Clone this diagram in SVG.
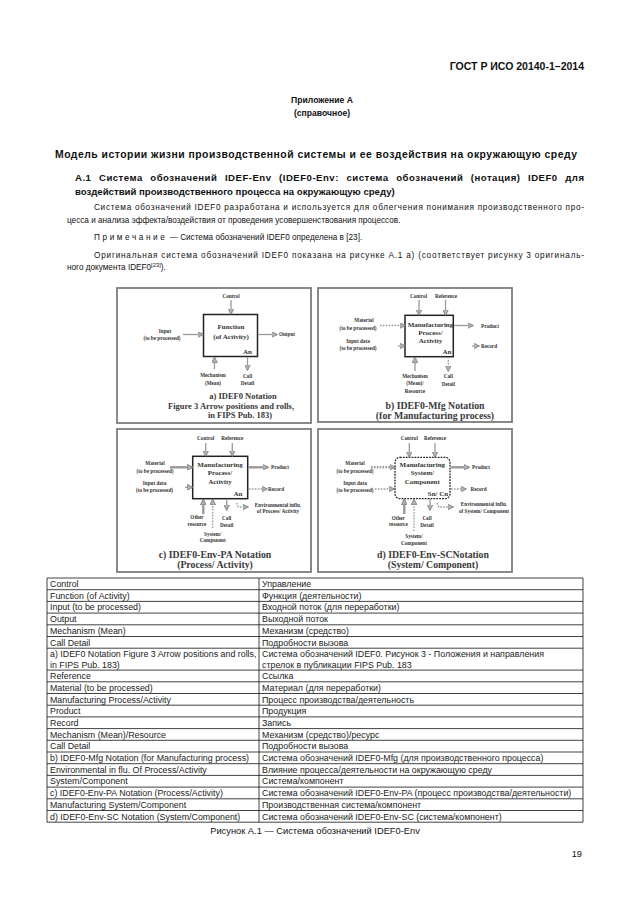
<svg xmlns="http://www.w3.org/2000/svg" width="630" height="913" viewBox="0 0 630 913">
<style>
.s{font-family:"Liberation Sans",Arial,sans-serif;fill:#111}
.b{font-weight:bold}
.t{font-family:"Liberation Sans",Arial,sans-serif;font-size:8.85px;fill:#222}
.pf{font-family:"Liberation Serif","Times New Roman",serif;font-weight:bold;fill:#333;text-anchor:middle}
.lb{font-size:5.2px}
.bx{font-size:7px}
.cap{font-size:9.8px;fill:#3a3a3a}
.capa{font-size:8.5px}
.panel{fill:#fff;stroke:#7d7d7d;stroke-width:1.8}
.box{fill:#fff;stroke:#222;stroke-width:1.5}
.ar{fill:none;stroke:#9a9a9a;stroke-width:1.3;marker-end:url(#ah)}
.th{stroke-width:2.4}
.dt{stroke-dasharray:1.6 1.3}
.tl{stroke:#111;stroke-width:0.8}
</style>
<defs>
<marker id="ah" viewBox="0 0 10 10" refX="9" refY="5" markerWidth="6" markerHeight="6" orient="auto" markerUnits="userSpaceOnUse">
<path d="M0,0 L10,5 L0,10 z" fill="#b0b0b0" stroke="#666" stroke-width="1"/>
</marker>
</defs>
<rect x="0" y="0" width="630" height="913" fill="#fff"/>

<g id="page-text">
<text class="s b" x="584" y="69.5" font-size="10.5" text-anchor="end">ГОСТ Р ИСО 20140-1–2014</text>
<text class="s b" x="322" y="103" font-size="8.6" text-anchor="middle">Приложение А</text>
<text class="s b" x="322" y="116" font-size="8.6" text-anchor="middle">(справочное)</text>
<text class="s b" x="316" y="157.5" font-size="10.4" text-anchor="middle" textLength="522">Модель истории жизни производственной системы и ее воздействия на окружающую среду</text>
<text class="s b" x="75" y="181" font-size="9.6" word-spacing="4.4" textLength="509">А.1 Система обозначений IDEF-Env (IDEF0-Env: система обозначений (нотация) IDEF0 для</text>
<text class="s b" x="75" y="195" font-size="9.6">воздействий производственного процесса на окружающую среду)</text>
<text class="s" x="94" y="210" font-size="8.2" textLength="490">Система обозначений IDEF0 разработана и используется для облегчения понимания производственного про-</text>
<text class="s" x="67" y="223" font-size="8.2">цесса и анализа эффекта/воздействия от проведения усовершенствования процессов.</text>
<text class="s" x="94" y="240" font-size="8.2"><tspan letter-spacing="2.6">Примечание</tspan> — Система обозначений IDEF0 определена в [23].</text>
<text class="s" x="94" y="258" font-size="8.2" textLength="490">Оригинальная система обозначений IDEF0 показана на рисунке А.1 а) (соответствует рисунку 3 оригиналь-</text>
<text class="s" x="67" y="270" font-size="8.2">ного документа IDEF0<tspan font-size="5.8" dy="-3">[23]</tspan><tspan dy="3">).</tspan></text>
</g>

<g id="panel-a">
<rect class="panel" x="117" y="288" width="194" height="135"/>
<rect class="box" x="203.5" y="314.5" width="54" height="42"/>
<text class="pf lb" x="231" y="298">Control</text>
<text class="pf bx" x="231" y="328.5">Function</text>
<text class="pf bx" x="231" y="338.5">(of Activity)</text>
<text class="pf bx" x="247.5" y="354">An</text>
<text class="pf lb" x="165" y="333">Input</text>
<text class="pf lb" x="162" y="339.5">(to be processed)</text>
<text class="pf lb" x="287" y="336">Output</text>
<text class="pf lb" x="213" y="377">Mechanism</text>
<text class="pf lb" x="213" y="384.5">(Mean)</text>
<text class="pf lb" x="247.5" y="378">Call</text>
<text class="pf lb" x="247.5" y="385">Detail</text>
<text class="pf cap capa" x="243" y="399">a) IDEF0 Notation</text>
<text class="pf cap capa" x="231" y="408.5">Figure 3 Arrow positions and rolls,</text>
<text class="pf cap capa" x="240" y="418">in FIPS Pub. 183)</text>
</g>

<g id="panel-b">
<rect class="panel" x="318" y="288" width="194" height="134"/>
<rect class="box" x="405" y="315.3" width="48.3" height="41.4"/>
<text class="pf lb" x="418.5" y="298">Control</text>
<text class="pf lb" x="446" y="298">Reference</text>
<text class="pf bx" x="430.5" y="327">Manufacturing</text>
<text class="pf bx" x="430.5" y="335">Process/</text>
<text class="pf bx" x="430.5" y="343">Activity</text>
<text class="pf bx" x="447" y="354">An</text>
<text class="pf lb" x="364" y="322">Material</text>
<text class="pf lb" x="358" y="329.5">(to be processed)</text>
<text class="pf lb" x="358" y="342.5">Input data</text>
<text class="pf lb" x="358" y="350">(to be processed)</text>
<text class="pf lb" x="490" y="327.5">Product</text>
<text class="pf lb" x="489" y="347.5">Record</text>
<text class="pf lb" x="415" y="378">Mechanism</text>
<text class="pf lb" x="415" y="385">(Mean)/</text>
<text class="pf lb" x="415" y="392.5">Resource</text>
<text class="pf lb" x="448.3" y="378">Call</text>
<text class="pf lb" x="448.3" y="385.5">Detail</text>
<text class="pf cap" x="435" y="408.5">b) IDEF0-Mfg Notation</text>
<text class="pf cap" x="435" y="418.5">(for Manufacturing process)</text>
</g>

<g id="panel-c">
<rect class="panel" x="117" y="429" width="194" height="143"/>
<rect class="box" x="192.7" y="456.3" width="55" height="42.4"/>
<text class="pf lb" x="205.7" y="440">Control</text>
<text class="pf lb" x="232.3" y="440">Reference</text>
<text class="pf bx" x="220" y="466.5">Manufacturing</text>
<text class="pf bx" x="220" y="475">Process/</text>
<text class="pf bx" x="220" y="483.5">Activity</text>
<text class="pf bx" x="238" y="495.5">An</text>
<text class="pf lb" x="155" y="465">Material</text>
<text class="pf lb" x="155" y="472.5">(to be processed)</text>
<text class="pf lb" x="154.5" y="485">Input data</text>
<text class="pf lb" x="154.5" y="492">(to be processed)</text>
<text class="pf lb" x="280" y="469">Product</text>
<text class="pf lb" x="276" y="490.5">Record</text>
<text class="pf lb" x="278" y="506.5">Environmental influ.</text>
<text class="pf lb" x="278" y="513">of Process/ Activity</text>
<text class="pf lb" x="197" y="519">Other</text>
<text class="pf lb" x="197" y="526">resource</text>
<text class="pf lb" x="212.7" y="535.5">System/</text>
<text class="pf lb" x="212.7" y="542">Component</text>
<text class="pf lb" x="226.7" y="519.5">Call</text>
<text class="pf lb" x="226.7" y="526.5">Detail</text>
<text class="pf cap" x="215" y="557.5">c) IDEF0-Env-PA Notation</text>
<text class="pf cap" x="215" y="567.5">(Process/ Activity)</text>
</g>

<g id="panel-d">
<rect class="panel" x="318" y="429" width="194" height="143"/>
<rect x="395" y="457.3" width="55" height="41.4" rx="5" fill="#fff" stroke="#222" stroke-width="1.3" stroke-dasharray="1.8 1.1"/>
<text class="pf lb" x="409.3" y="440">Control</text>
<text class="pf lb" x="435" y="440">Reference</text>
<text class="pf bx" x="422.3" y="466.5">Manufacturing</text>
<text class="pf bx" x="422.3" y="475">System/</text>
<text class="pf bx" x="422.3" y="483.5">Component</text>
<text class="pf bx" x="438" y="495.5">Sn/ Cn</text>
<text class="pf lb" x="355" y="465">Material</text>
<text class="pf lb" x="355" y="472.5">(to be processed)</text>
<text class="pf lb" x="355" y="485">Input data</text>
<text class="pf lb" x="355" y="492">(to be processed)</text>
<text class="pf lb" x="481" y="469">Product</text>
<text class="pf lb" x="478.5" y="490.5">Record</text>
<text class="pf lb" x="484" y="506">Environmental influ.</text>
<text class="pf lb" x="484" y="512.5">of System/ Component</text>
<text class="pf lb" x="398.3" y="519.5">Other</text>
<text class="pf lb" x="398.3" y="526">resource</text>
<text class="pf lb" x="414" y="538">System/</text>
<text class="pf lb" x="414" y="544.5">Component</text>
<text class="pf lb" x="427" y="519.5">Call</text>
<text class="pf lb" x="427" y="526.5">Detail</text>
<text class="pf cap" x="433" y="558">d) IDEF0-Env-SCNotation</text>
<text class="pf cap" x="433" y="567.5">(System/ Component)</text>
</g>

<g id="connectors">
<path class="ar" d="M231,300 V314"/>
<path class="ar" d="M183,334.5 H203"/>
<path class="ar" d="M258.5,334.5 H277"/>
<path class="ar" d="M214.5,369 V357.5"/>
<path class="ar" d="M247.5,357 V370"/>
<path class="ar" d="M419,300 V315"/>
<path class="ar" d="M445.5,300 V315"/>
<path class="ar dt" d="M380,325.5 H405"/>
<path class="ar" d="M398,346 H405"/>
<path class="ar" d="M454,325.5 H473"/>
<path class="ar" d="M472,346 H479"/>
<path class="ar" d="M415,371 V357.5"/>
<path class="ar dt" d="M448.3,357 V371"/>
<path class="ar" d="M205.7,443 V456"/>
<path class="ar" d="M232.3,443 V456"/>
<path class="ar th" d="M170,467.3 H192.5"/>
<path class="ar" d="M185,487.3 H192.5"/>
<path class="ar th" d="M248,467.3 H268"/>
<path class="ar dt" d="M249,489 H267"/>
<path class="ar dt" d="M236.5,503 L238.5,507 H248"/>
<path class="ar th" d="M203.3,514 V499.5"/>
<path class="ar dt" d="M212.7,528 V499.5"/>
<path class="ar" d="M226.7,499 V510"/>
<path class="ar" d="M409.3,443 V457"/>
<path class="ar" d="M435,443 V457"/>
<path class="ar th dt" d="M371,467.3 H395"/>
<path class="ar dt" d="M375,489 H394"/>
<path class="ar th" d="M450.5,467.3 H469"/>
<path class="ar dt" d="M451,489 H466"/>
<path class="ar dt" d="M437,503 L439,507 H453"/>
<path class="ar th" d="M404.3,514 V499.5"/>
<path class="ar dt" d="M414,531 V499.5"/>
<path class="ar" d="M430,499 V510"/>
</g>

<g id="table">
<g class="tl">
<line x1="47" y1="578" x2="583" y2="578"/>
<line x1="47" y1="589.7" x2="583" y2="589.7"/>
<line x1="47" y1="601.4" x2="583" y2="601.4"/>
<line x1="47" y1="613.1" x2="583" y2="613.1"/>
<line x1="47" y1="624.8" x2="583" y2="624.8"/>
<line x1="47" y1="636.5" x2="583" y2="636.5"/>
<line x1="47" y1="648.2" x2="583" y2="648.2"/>
<line x1="47" y1="670.1" x2="583" y2="670.1"/>
<line x1="47" y1="681.8" x2="583" y2="681.8"/>
<line x1="47" y1="693.5" x2="583" y2="693.5"/>
<line x1="47" y1="705.2" x2="583" y2="705.2"/>
<line x1="47" y1="716.9" x2="583" y2="716.9"/>
<line x1="47" y1="728.6" x2="583" y2="728.6"/>
<line x1="47" y1="740.3" x2="583" y2="740.3"/>
<line x1="47" y1="752" x2="583" y2="752"/>
<line x1="47" y1="763.7" x2="583" y2="763.7"/>
<line x1="47" y1="775.4" x2="583" y2="775.4"/>
<line x1="47" y1="787.1" x2="583" y2="787.1"/>
<line x1="47" y1="798.8" x2="583" y2="798.8"/>
<line x1="47" y1="810.5" x2="583" y2="810.5"/>
<line x1="47" y1="822.2" x2="583" y2="822.2"/>
<line x1="47" y1="578" x2="47" y2="822.2"/>
<line x1="259" y1="578" x2="259" y2="822.2"/>
<line x1="583" y1="578" x2="583" y2="822.2"/>
</g>
<g class="t">
<text x="50" y="587">Control</text>
<text x="50" y="598.7">Function (of Activity)</text>
<text x="50" y="610.4">Input (to be processed)</text>
<text x="50" y="622.1">Output</text>
<text x="50" y="633.8">Mechanism (Mean)</text>
<text x="50" y="645.5">Call Detail</text>
<text x="50" y="657.2">a) IDEF0 Notation Figure 3 Arrow positions and rolls,</text>
<text x="50" y="667.6">in FIPS Pub. 183)</text>
<text x="50" y="679.1">Reference</text>
<text x="50" y="690.8">Material (to be processed)</text>
<text x="50" y="702.5">Manufacturing Process/Activity</text>
<text x="50" y="714.2">Product</text>
<text x="50" y="725.9">Record</text>
<text x="50" y="737.6">Mechanism (Mean)/Resource</text>
<text x="50" y="749.3">Call Detail</text>
<text x="50" y="761">b) IDEF0-Mfg Notation (for Manufacturing process)</text>
<text x="50" y="772.7">Environmental in flu. Of Process/Activity</text>
<text x="50" y="784.4">System/Component</text>
<text x="50" y="796.1">c) IDEF0-Env-PA Notation (Process/Activity)</text>
<text x="50" y="807.8">Manufacturing System/Component</text>
<text x="50" y="819.5">d) IDEF0-Env-SC Notation (System/Component)</text>
<text x="262" y="587">Управление</text>
<text x="262" y="598.7">Функция (деятельности)</text>
<text x="262" y="610.4">Входной поток (для переработки)</text>
<text x="262" y="622.1">Выходной поток</text>
<text x="262" y="633.8">Механизм (средство)</text>
<text x="262" y="645.5">Подробности вызова</text>
<text x="262" y="657.2">Система обозначений IDEF0. Рисунок 3 - Положения и направления</text>
<text x="262" y="667.6">стрелок в публикации FIPS Pub. 183</text>
<text x="262" y="679.1">Ссылка</text>
<text x="262" y="690.8">Материал (для переработки)</text>
<text x="262" y="702.5">Процесс производства/деятельность</text>
<text x="262" y="714.2">Продукция</text>
<text x="262" y="725.9">Запись</text>
<text x="262" y="737.6">Механизм (средство)/ресурс</text>
<text x="262" y="749.3">Подробности вызова</text>
<text x="262" y="761">Система обозначений IDEF0-Mfg (для производственного процесса)</text>
<text x="262" y="772.7">Влияние процесса/деятельности на окружающую среду</text>
<text x="262" y="784.4">Система/компонент</text>
<text x="262" y="796.1">Система обозначений IDEF0-Env-PA (процесс производства/деятельности)</text>
<text x="262" y="807.8">Производственная система/компонент</text>
<text x="262" y="819.5">Система обозначений IDEF0-Env-SC (система/компонент)</text>
</g>
</g>

<g id="caption">
<text class="s" x="315" y="834" font-size="9.3" text-anchor="middle">Рисунок А.1 — Система обозначений IDEF0-Env</text>
<text class="s" x="582" y="857" font-size="9.3" text-anchor="end">19</text>
</g>
</svg>
